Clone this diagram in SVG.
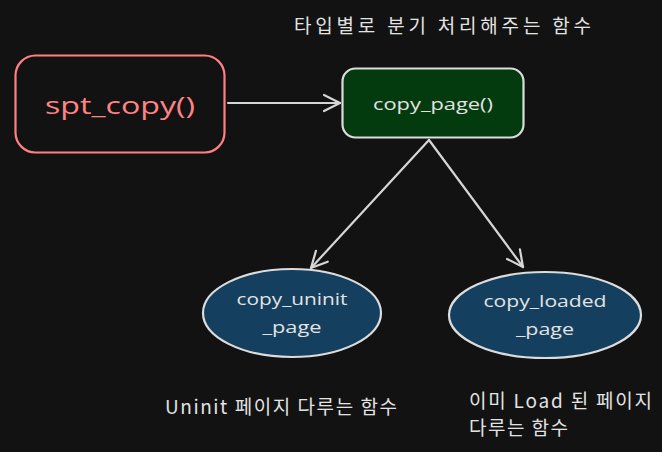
<svg xmlns="http://www.w3.org/2000/svg" width="662" height="452" viewBox="0 0 662 452">
  <style>
    .bg { fill: #121212; }
    .lbl { font-family: "Open Sans", "Noto Sans CJK KR", sans-serif; fill: #e3e3e3; }
    .ko { font-family: "Noto Sans CJK KR", "Open Sans", sans-serif; fill: #e3e3e3; font-size: 19px; }
    .conn { stroke: #d6d6d6; stroke-width: 2.2; fill: none; stroke-linecap: round; stroke-linejoin: round; }
    .ell { fill: #153f5e; stroke: #dcdcdc; stroke-width: 2.2; }
  </style>
  <defs>
    <marker id="arrow" viewBox="0 0 20 20" refX="18" refY="10" markerWidth="20" markerHeight="20" markerUnits="userSpaceOnUse" orient="auto">
      <path d="M2,2 L18,10 L2,18" fill="none" stroke="#d6d6d6" stroke-width="2.2" stroke-linecap="round" stroke-linejoin="round"/>
    </marker>
  </defs>
  <rect class="bg" x="0" y="0" width="662" height="452"/>

  <g id="connectors">
    <line class="conn" x1="228" y1="103" x2="340" y2="103" marker-end="url(#arrow)"/>
    <line class="conn" x1="429" y1="140" x2="311" y2="268" marker-end="url(#arrow)"/>
    <line class="conn" x1="429" y1="140" x2="523" y2="267" marker-end="url(#arrow)"/>
  </g>

  <g id="spt_copy">
    <rect x="15.5" y="55.5" width="209" height="97" rx="20" fill="none" stroke="#ff8080" stroke-width="2.2"/>
    <text x="120" y="114" text-anchor="middle" font-family="Open Sans, sans-serif" font-size="24" fill="#ff8383" textLength="150" lengthAdjust="spacingAndGlyphs">spt_copy()</text>
  </g>

  <g id="copy_page">
    <rect x="342.5" y="68.5" width="181" height="69" rx="13" fill="#043b0e" stroke="#dcdcdc" stroke-width="2.2"/>
    <text class="lbl" x="433" y="110" text-anchor="middle" font-size="16" textLength="120" lengthAdjust="spacingAndGlyphs">copy_page()</text>
  </g>

  <g id="copy_uninit_page">
    <ellipse class="ell" cx="292" cy="313" rx="89" ry="44"/>
    <text class="lbl" x="292" y="305" text-anchor="middle" font-size="16" textLength="111" lengthAdjust="spacingAndGlyphs">copy_uninit</text>
    <text class="lbl" x="292" y="333" text-anchor="middle" font-size="16" textLength="59" lengthAdjust="spacingAndGlyphs">_page</text>
  </g>

  <g id="copy_loaded_page">
    <ellipse class="ell" cx="545" cy="315" rx="96" ry="43"/>
    <text class="lbl" x="545" y="307" text-anchor="middle" font-size="16" textLength="123" lengthAdjust="spacingAndGlyphs">copy_loaded</text>
    <text class="lbl" x="545" y="335" text-anchor="middle" font-size="16" textLength="58" lengthAdjust="spacingAndGlyphs">_page</text>
  </g>

  <g id="label_top">
    <text class="ko" x="294" y="33" textLength="297" lengthAdjust="spacing">타입별로 분기 처리해주는 함수</text>
  </g>
  <g id="label_uninit">
    <text class="ko" x="165" y="414" textLength="232" lengthAdjust="spacing">Uninit 페이지 다루는 함수</text>
  </g>
  <g id="label_loaded">
    <text class="ko" x="469" y="408" textLength="183" lengthAdjust="spacing">이미 Load 된 페이지</text>
    <text class="ko" x="469" y="435" textLength="99" lengthAdjust="spacing">다루는 함수</text>
  </g>
</svg>
